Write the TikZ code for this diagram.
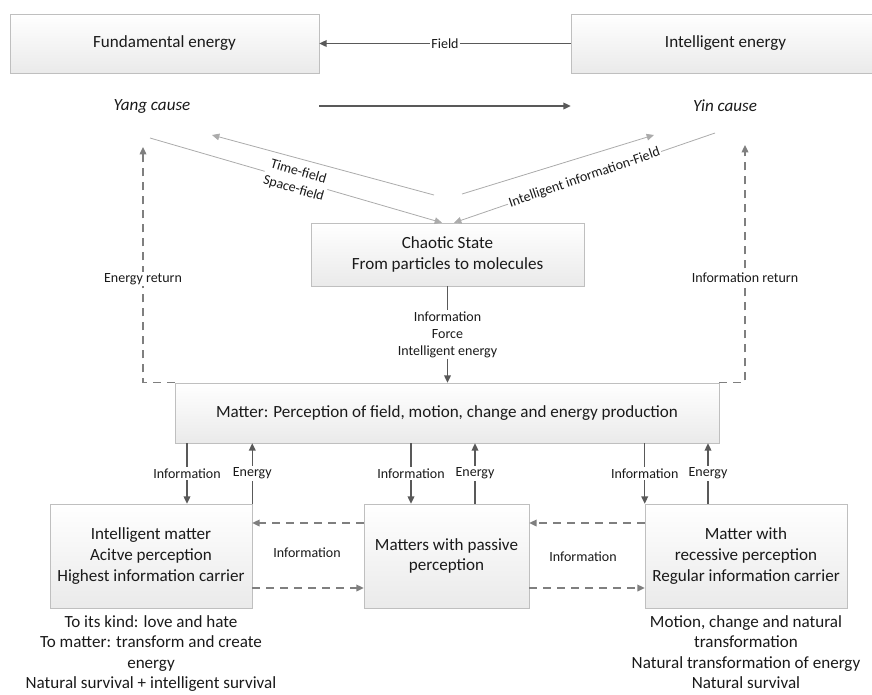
\documentclass[tikz,border=0pt]{standalone}
\usepackage{fontspec}
\setmainfont{Carlito}
\usetikzlibrary{arrows.meta,shadows,positioning}
\definecolor{txt}{HTML}{1A1A1A}
\definecolor{edge}{HTML}{BFBFBF}
\definecolor{shade}{HTML}{EAEAEA}
\definecolor{conn}{HTML}{595959}
\definecolor{thinline}{HTML}{ABABAB}
\definecolor{dashgray}{HTML}{7F7F7F}
\newcommand{\bigfs}{\fontsize{12.8}{15.5}\selectfont}
\newcommand{\smallfs}{\fontsize{10.5}{12.75}\selectfont}

\begin{document}
\begin{tikzpicture}[x=0.75pt, y=-0.75pt, >={Triangle[length=5.5pt,width=5pt]},
	box/.style={draw=edge, top color=white, bottom color=shade,
		drop shadow={opacity=0.15,shadow xshift=1pt,shadow yshift=-1pt},
		align=center, text=txt, font=\bigfs, inner sep=2pt},
	cause/.style={font=\bigfs\itshape, text=txt},
	lbl/.style={font=\smallfs, text=txt, fill=white, inner sep=1pt, align=center},
	note/.style={font=\fontsize{12.8}{15.2}\selectfont, text=txt, align=center, inner sep=2pt},
	arr/.style={draw=conn, line width=1pt, ->},
	darr/.style={draw=dashgray, line width=1pt, dash pattern=on 6pt off 4.5pt, ->},
	thinarr/.style={draw=thinline, line width=0.6pt, ->}]
	\useasboundingbox (0,0) rectangle (872,694);

	% top row
	\node[box, minimum width=231.75pt, minimum height=44.25pt] (fund) at (164.5,43.5) {Fundamental energy};
	\node[box, minimum width=231.75pt, minimum height=44.25pt] (intel) at (725.5,43.5) {Intelligent energy};
	\draw[arr] (intel) -- node[lbl] (field) {Field} (fund);

	\node[cause] (yang) at (152,106) {Yang cause};
	\node[cause] (yin) at (725,106) {Yin cause};
	\draw[arr] (yang -| fund.east) -- (yin -| intel.west);

	% chaotic state and the field lines
	\node[box, minimum width=204.75pt, minimum height=47.25pt] (chaos) at (447.5,254.5) {Chaotic State\\From particles to molecules};

	\coordinate (d1) at (150,138);
	\coordinate (d2a) at (434,195);
	\coordinate (d2b) at (212,135);
	\coordinate (d3a) at (462,194);
	\coordinate (d3b) at (654,135);
	\coordinate (d4) at (715,133);
	\draw[thinarr] (d1) -- node[lbl, sloped, font=\fontsize{10.5}{13}\selectfont] (tsf) {Time-field\\Space-field} (chaos.north -| 442,0);
	\draw[thinarr] (d2a) -- (d2b);
	\draw[thinarr] (d3a) -- (d3b);
	\draw[thinarr] (d4) -- node[lbl, sloped] (iif) {Intelligent information-Field} (chaos.north -| 454,0);

	% matter
	\node[box, minimum width=408pt, minimum height=45pt] (matter) at (447,413) {Matter: Perception of field, motion, change and energy production};
	\draw[arr] (chaos.south) -- node[lbl] (ife) {Information\\Force\\Intelligent energy} (chaos.south |- matter.north);

	\coordinate (eret) at (143,147);
	\coordinate (iret) at (745,145);
	\draw[darr] (matter.north west) -| node[lbl, pos=0.72] (er) {Energy return} (eret);
	\draw[darr] (matter.north east) -| node[lbl, pos=0.72] (ir) {Information return} (iret);

	% bottom row
	\node[box, minimum width=151.5pt, minimum height=78pt] (intm) at (151,556) {Intelligent matter\\Acitve perception\\Highest information carrier};
	\node[box, minimum width=123.75pt, minimum height=78pt] (pasm) at (446.5,556) {Matters with passive\\perception};
	\node[box, minimum width=151.5pt, minimum height=78pt] (recm) at (746,556) {Matter with\\recessive perception\\Regular information carrier};

	\draw[arr] (matter.south -| 187,0) -- node[lbl] (i1) {Information} (intm.north -| 187,0);
	\draw[arr] (intm.north east) -- node[lbl] (e1) {Energy} (intm.north east |- matter.south);
	\draw[arr] (matter.south -| 411,0) -- node[lbl] (i2) {Information} (pasm.north -| 411,0);
	\draw[arr] (pasm.north -| 475,0) -- node[lbl] (e2) {Energy} (matter.south -| 475,0);
	\draw[arr] (matter.south -| recm.north west) -- node[lbl] (i3) {Information} (recm.north west);
	\draw[arr] (recm.north -| 708,0) -- node[lbl] (e3) {Energy} (matter.south -| 708,0);

	\draw[darr] (pasm.west |- 0,523) -- (intm.east |- 0,523);
	\draw[darr] (recm.west |- 0,523) -- (pasm.east |- 0,523);
	\draw[darr] (intm.east |- 0,588) -- (pasm.west |- 0,588);
	\draw[darr] (pasm.east |- 0,588) -- (recm.west |- 0,588);
	\node[lbl] (il) at (307,553) {Information};
	\node[lbl] (ir2) at (583,557) {Information};

	\node[note, below=3.5pt of intm] (intnote) {To its kind: love and hate\\To matter: transform and create\\energy\\Natural survival + intelligent survival};
	\node[note, below=3.5pt of recm] (recnote) {Motion, change and natural\\transformation\\Natural transformation of energy\\Natural survival};
\end{tikzpicture}
\end{document}
